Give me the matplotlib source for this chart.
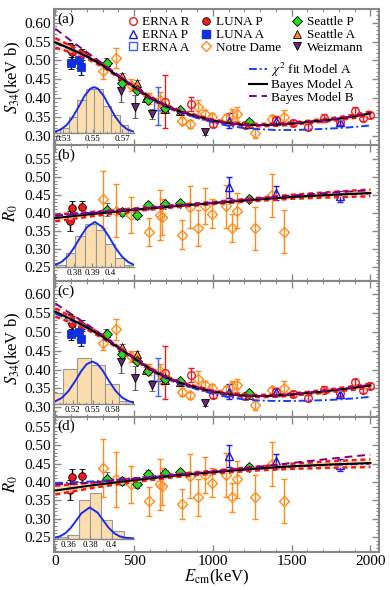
import numpy as np
import matplotlib
matplotlib.use("Agg")
from matplotlib import pyplot as plt
from matplotlib.lines import Line2D
from matplotlib.ticker import MultipleLocator, FixedLocator

plt.rcParams['font.family'] = ['Liberation Serif', 'DejaVu Serif']
plt.rcParams['mathtext.fontset'] = 'stix'

# ---------------- data points (E in keV) ----------------
# Notre Dame (open diamonds)
nd_E = [303, 384, 478, 595, 663, 680, 806, 857, 905, 949, 998, 1085, 1120, 1155, 1271, 1373, 1452]
nd_S = [0.471, 0.506, 0.435, 0.400, 0.396, 0.373, 0.341, 0.332, 0.376, 0.358, 0.350, 0.347, 0.356, 0.358, 0.307, 0.345, 0.350]
nd_dS = [0.020, 0.027, 0.015, 0.015, 0.020, 0.012, 0.010, 0.010, 0.020, 0.012, 0.012, 0.010, 0.015, 0.018, 0.013, 0.010, 0.020]
nd_R = [0.438, 0.407, 0.394, 0.347, 0.394, 0.388, 0.340, 0.417, 0.358, 0.419, 0.398, 0.419, 0.358, 0.407, 0.358, 0.450, 0.348]
nd_dR = [0.080, 0.075, 0.050, 0.040, 0.070, 0.050, 0.040, 0.060, 0.050, 0.050, 0.040, 0.060, 0.040, 0.050, 0.060, 0.060, 0.060]

# Seattle P (green diamonds)
sp_E = [329, 426, 522, 586, 698, 793, 1231]
sp_S = [0.493, 0.440, 0.422, 0.396, 0.374, 0.369, 0.338]
sp_dS = [0.008, 0.008, 0.008, 0.007, 0.006, 0.006, 0.006]
sp_R = [0.409, 0.403, 0.394, 0.422, 0.424, 0.427, 0.440]
sp_dR = [0.018, 0.010, 0.010, 0.010, 0.008, 0.008, 0.008]

# Seattle A (orange triangles)
sa_E = [325, 426, 519, 579, 698, 793, 1231]
sa_S = [0.497, 0.459, 0.441, 0.400, 0.372, 0.367, 0.333]
sa_dS = [0.010, 0.008, 0.008, 0.007, 0.006, 0.006, 0.006]

# Weizmann (down triangles)
wz_E = [420, 504, 617, 949]
wz_S = [0.420, 0.378, 0.358, 0.311]
wz_dS = [0.030, 0.031, 0.014, 0.008]

# LUNA P (red filled circles)
lp_E = [92, 108, 170]
lp_S = [0.535, 0.521, 0.516]
lp_dS = [0.012, 0.020, 0.015]
lp_R = [0.378, 0.415, 0.417]
lp_dR = [0.028, 0.020, 0.018]

# LUNA A (blue filled squares)
la_E = [102, 149, 166]
la_S = [0.493, 0.500, 0.482]
la_dS = [0.015, 0.020, 0.020]

# ERNA R (red open circles)
er_E = [695, 860, 1003, 1203, 1400, 1506, 1606, 1705, 1807, 1902, 1955, 1995]
er_S = [0.391, 0.385, 0.332, 0.329, 0.342, 0.335, 0.325, 0.347, 0.338, 0.366, 0.347, 0.356]
er_dS = [0.070, 0.018, 0.008, 0.008, 0.010, 0.008, 0.008, 0.010, 0.008, 0.010, 0.008, 0.008]

# ERNA P (blue open triangles)
ep_E = [1104, 1400, 1807]
ep_S = [0.341, 0.340, 0.336]
ep_dS = [0.020, 0.010, 0.010]
ep_R = [0.472, 0.457, 0.447]
ep_dR = [0.030, 0.020, 0.016]

# ERNA A (blue open squares)
ea_E = [653]
ea_S = [0.380]
ea_dS = [0.050]

# ---------------- model curves ----------------
curve_E_S = [0, 100, 200, 300, 400, 500, 600, 700, 800, 900, 1000,
             1100, 1200, 1300, 1400, 1500, 1600, 1700, 1800, 1900, 2000]
black_a = [0.548, 0.530, 0.511, 0.487, 0.458, 0.430, 0.402, 0.380, 0.364, 0.352, 0.341,
           0.334, 0.330, 0.329, 0.330, 0.333, 0.337, 0.341, 0.346, 0.352, 0.360]
purple_a = [0.584, 0.552, 0.522, 0.492, 0.460, 0.431, 0.403, 0.381, 0.364, 0.352, 0.341,
            0.334, 0.330, 0.329, 0.331, 0.334, 0.338, 0.342, 0.347, 0.353, 0.361]
blue_a = [0.546, 0.529, 0.510, 0.487, 0.458, 0.430, 0.401, 0.378, 0.361, 0.348, 0.336,
          0.327, 0.321, 0.318, 0.316, 0.316, 0.317, 0.319, 0.321, 0.324, 0.328]
redhi_a = [0.559, 0.538, 0.516, 0.491, 0.461, 0.433, 0.405, 0.383, 0.367, 0.355, 0.344,
           0.337, 0.333, 0.332, 0.333, 0.336, 0.340, 0.345, 0.350, 0.357, 0.365]
redlo_a = [0.534, 0.521, 0.505, 0.483, 0.455, 0.427, 0.399, 0.377, 0.361, 0.349, 0.338,
           0.331, 0.327, 0.326, 0.327, 0.330, 0.334, 0.338, 0.342, 0.348, 0.355]

black_c = [0.553, 0.533, 0.512, 0.487, 0.458, 0.430, 0.402, 0.380, 0.364, 0.352, 0.342,
           0.335, 0.331, 0.330, 0.331, 0.334, 0.338, 0.342, 0.347, 0.352, 0.358]
purple_c = [0.575, 0.547, 0.520, 0.491, 0.460, 0.431, 0.403, 0.381, 0.365, 0.353, 0.342,
            0.335, 0.331, 0.330, 0.332, 0.335, 0.339, 0.343, 0.348, 0.354, 0.360]
blue_c = [0.548, 0.530, 0.510, 0.487, 0.458, 0.430, 0.401, 0.378, 0.361, 0.348, 0.336,
          0.327, 0.321, 0.318, 0.317, 0.317, 0.318, 0.319, 0.321, 0.324, 0.328]
redhi_c = [0.562, 0.540, 0.517, 0.491, 0.461, 0.433, 0.405, 0.383, 0.367, 0.355, 0.345,
           0.338, 0.334, 0.333, 0.334, 0.337, 0.341, 0.346, 0.351, 0.357, 0.363]
redlo_c = [0.540, 0.524, 0.506, 0.483, 0.455, 0.427, 0.399, 0.377, 0.361, 0.349, 0.339,
           0.332, 0.328, 0.327, 0.328, 0.331, 0.335, 0.338, 0.343, 0.347, 0.353]

curve_E_R = [0, 250, 500, 750, 1000, 1250, 1500, 1750, 2000]
black_b = [0.386, 0.398, 0.409, 0.419, 0.428, 0.437, 0.445, 0.451, 0.456]
purple_b = [0.392, 0.401, 0.411, 0.420, 0.429, 0.439, 0.449, 0.457, 0.464]
blue_b = [0.393, 0.402, 0.411, 0.420, 0.428, 0.437, 0.445, 0.451, 0.455]
redhi_b = [0.396, 0.404, 0.413, 0.422, 0.431, 0.441, 0.451, 0.459, 0.466]
redlo_b = [0.377, 0.392, 0.405, 0.416, 0.425, 0.433, 0.440, 0.444, 0.447]

black_d = [0.377, 0.392, 0.405, 0.417, 0.427, 0.436, 0.443, 0.448, 0.452]
purple_d = [0.393, 0.399, 0.409, 0.419, 0.429, 0.440, 0.452, 0.464, 0.475]
blue_d = [0.397, 0.402, 0.410, 0.419, 0.428, 0.436, 0.442, 0.447, 0.450]
redhi_d = [0.390, 0.399, 0.410, 0.421, 0.431, 0.441, 0.450, 0.457, 0.462]
redlo_d = [0.366, 0.385, 0.400, 0.413, 0.423, 0.431, 0.436, 0.439, 0.441]

# ---------------- inset histograms (relative heights) ----------------
hist_edges_a = [0.528, 0.5337, 0.5395, 0.5452, 0.551, 0.5567, 0.5624, 0.5682, 0.574]
hist_h_a = [0.11, 0.35, 0.72, 0.96, 0.96, 0.59, 0.39, 0.17]
gauss_x_a = [0.5245, 0.5285, 0.5325, 0.5365, 0.5405, 0.5445, 0.5485, 0.551, 0.5535,
             0.5575, 0.5615, 0.5655, 0.5695, 0.5735, 0.578]
gauss_y_a = [0.029, 0.078, 0.178, 0.346, 0.573, 0.808, 0.969, 1.0, 0.969,
             0.808, 0.573, 0.346, 0.178, 0.078, 0.025]
ticks_a = [0.53, 0.55, 0.57]
ticklabels_a = ['0.53', '0.55', '0.57']

hist_edges_b = [0.3703, 0.3754, 0.3806, 0.3862, 0.3917, 0.3969, 0.4023, 0.4074, 0.4127]
hist_h_b = [0.04, 0.30, 0.69, 0.96, 0.81, 0.50, 0.21, 0.04]
gauss_x_b = [0.3695, 0.373, 0.3765, 0.38, 0.3835, 0.387, 0.3913, 0.3956, 0.3991,
             0.4026, 0.4061, 0.4096, 0.4128]
gauss_y_b = [0.043, 0.110, 0.235, 0.430, 0.669, 0.885, 1.0, 0.885, 0.669,
             0.430, 0.235, 0.110, 0.047]
ticks_b = [0.38, 0.39, 0.40]
ticklabels_b = ['0.38', '0.39', '0.4']

hist_edges_c = [0.4846, 0.5056, 0.5266, 0.5476, 0.5686, 0.5896, 0.6106]
hist_h_c = [0.24, 0.83, 1.08, 0.92, 0.47, 0.06]
gauss_x_c = [0.4928, 0.503, 0.513, 0.523, 0.533, 0.541, 0.5492, 0.557, 0.565,
             0.575, 0.585, 0.595, 0.605, 0.6128]
gauss_y_c = [0.049, 0.133, 0.290, 0.523, 0.780, 0.938, 1.0, 0.945, 0.790,
             0.533, 0.298, 0.138, 0.053, 0.022]
ticks_c = [0.52, 0.55, 0.58]
ticklabels_c = ['0.52', '0.55', '0.58']

hist_edges_d = [0.3491, 0.3585, 0.3694, 0.3797, 0.3898, 0.4007, 0.4111, 0.4210]
hist_h_d = [0.05, 0.11, 1.24, 1.45, 0.59, 0.25, 0.03]
gauss_x_d = [0.3475, 0.352, 0.357, 0.362, 0.367, 0.372, 0.3797, 0.387, 0.392,
             0.397, 0.402, 0.407, 0.412, 0.4207]
gauss_y_d = [0.027, 0.070, 0.167, 0.337, 0.571, 0.814, 1.0, 0.831, 0.592,
             0.354, 0.178, 0.075, 0.027, 0.003]
ticks_d = [0.36, 0.38, 0.40]
ticklabels_d = ['0.36', '0.38', '0.4']

# ---------------- colours ----------------
c_red = '#EE1C1C'
c_blue = '#1A1AE6'
c_orange = '#FF8C1A'
c_green = '#22DD22'
c_purple = '#6A2878'
c_gray = '#888888'

W, H = 390.0, 590.0
fig = plt.figure(figsize=(W / 100, H / 100), dpi=100)


def px_rect(left, top, right, bottom):
    return [left / W, 1 - bottom / H, (right - left) / W, (bottom - top) / H]


bounds = [9, 145.5, 281, 416.5, 552]
axes = [fig.add_axes(px_rect(54, bounds[i], 379, bounds[i + 1])) for i in range(4)]

eb = dict(capsize=2.2, elinewidth=1.0, capthick=1.0, ms=5.5, linestyle='none', zorder=2)


def style_axes(ax):
    ax.set_xlim(-8, 2055)
    ax.xaxis.set_major_locator(MultipleLocator(500))
    ax.xaxis.set_minor_locator(MultipleLocator(100))
    ax.yaxis.set_major_locator(MultipleLocator(0.05))
    ax.yaxis.set_minor_locator(MultipleLocator(0.01))
    ax.yaxis.set_major_formatter(matplotlib.ticker.FormatStrFormatter('%.2f'))
    ax.tick_params(which='both', direction='in', top=True, right=True,
                   color=c_gray, labelsize=11, pad=2)
    ax.tick_params(which='major', length=5, width=1.0)
    ax.tick_params(which='minor', length=2.5, width=0.8)
    for s in ax.spines.values():
        s.set_color(c_gray)
        s.set_linewidth(1.5)
    ax.tick_params(axis='x', labelbottom=False)


def draw_S(ax, black, purple, blue, redhi, redlo):
    ax.errorbar(nd_E, nd_S, yerr=nd_dS, fmt='D', mfc='none', mec=c_orange, mew=1.0,
                ecolor=c_orange, **{**eb, 'ms': 5})
    ax.errorbar(er_E, er_S, yerr=er_dS, fmt='o', mfc='none', mec=c_red, mew=1.0,
                ecolor=c_red, **eb)
    ax.errorbar(ea_E, ea_S, yerr=ea_dS, fmt='s', mfc='none', mec='#4060FF', mew=1.0,
                ecolor='#4060FF', **eb)
    ax.errorbar(ep_E, ep_S, yerr=ep_dS, fmt='^', mfc='none', mec=c_blue, mew=1.0,
                ecolor=c_blue, **eb)
    ax.errorbar(wz_E, wz_S, yerr=wz_dS, fmt='v', mfc=c_purple, mec='black', mew=0.6,
                ecolor='#555555', **eb)
    ax.errorbar(sa_E, sa_S, yerr=sa_dS, fmt='^', mfc=c_orange, mec='black', mew=0.6,
                ecolor='#666666', **eb)
    ax.errorbar(sp_E, sp_S, yerr=sp_dS, fmt='D', mfc=c_green, mec='black', mew=0.6,
                ecolor='#666666', **{**eb, 'ms': 5})
    ax.errorbar(lp_E, lp_S, yerr=lp_dS, fmt='o', mfc=c_red, mec='black', mew=0.6,
                ecolor='black', **eb)
    ax.errorbar(la_E, la_S, yerr=la_dS, fmt='s', mfc='#1030E0', mec='#1030E0', mew=0.6,
                ecolor='black', **eb)
    draw_curves(ax, curve_E_S, black, purple, blue, redhi, redlo)


def draw_R(ax, black, purple, blue, redhi, redlo):
    ax.errorbar(nd_E, nd_R, yerr=nd_dR, fmt='D', mfc='none', mec=c_orange, mew=1.0,
                ecolor=c_orange, **{**eb, 'ms': 5})
    ax.errorbar(ep_E, ep_R, yerr=ep_dR, fmt='^', mfc='none', mec=c_blue, mew=1.0,
                ecolor=c_blue, **eb)
    ax.errorbar(sp_E, sp_R, yerr=sp_dR, fmt='D', mfc=c_green, mec='black', mew=0.6,
                ecolor='#666666', **{**eb, 'ms': 5})
    ax.errorbar(lp_E, lp_R, yerr=lp_dR, fmt='o', mfc=c_red, mec='black', mew=0.6,
                ecolor='black', **eb)
    draw_curves(ax, curve_E_R, black, purple, blue, redhi, redlo)


def draw_curves(ax, E, black, purple, blue, redhi, redlo):
    ax.fill_between(E, redlo, redhi, color='#FCD9A6', alpha=0.8, lw=0, zorder=3)
    ax.plot(E, redhi, color=c_red, lw=1.8, ls=(0, (2, 1.5)), zorder=4)
    ax.plot(E, redlo, color=c_red, lw=1.8, ls=(0, (2, 1.5)), zorder=4)
    ax.plot(E, blue, color='#1A3CFF', lw=1.4, ls=(0, (4, 1.5, 1, 1.5)), zorder=5)
    ax.plot(E, black, color='black', lw=1.5, zorder=6)
    ax.plot(E, purple, color='#800080', lw=1.4, ls=(0, (4, 2.5)), zorder=7)


def draw_inset(baseline, edges, heights, gx, gy, ticks, labels, minor):
    top = baseline - 55
    ins = fig.add_axes(px_rect(55, top, 134, baseline))
    ins.patch.set_alpha(0)
    ins.bar(edges[:-1], heights, width=np.diff(edges), align='edge',
            color='#FBDDAE', edgecolor='#999999', lw=0.8)
    ins.plot(gx, gy, color='#1A2CF0', lw=1.4)
    ins.set_xlim(gx[0], gx[-1])
    ins.set_ylim(0, 55.0 / (baseline - top) * max(1.0, 0) * 1.2)
    for k in ['left', 'right', 'top']:
        ins.spines[k].set_visible(False)
    ins.spines['bottom'].set_color(c_gray)
    ins.spines['bottom'].set_linewidth(1.0)
    ins.set_yticks([])
    ins.xaxis.set_major_locator(FixedLocator(ticks))
    ins.xaxis.set_minor_locator(MultipleLocator(minor))
    ins.set_xticklabels(labels)
    ins.tick_params(which='both', direction='in', color=c_gray, labelsize=6.5, pad=1.5)
    ins.tick_params(which='major', length=3)
    ins.tick_params(which='minor', length=1.5)
    return ins


for ax in axes:
    style_axes(ax)

draw_S(axes[0], black_a, purple_a, blue_a, redhi_a, redlo_a)
draw_R(axes[1], black_b, purple_b, blue_b, redhi_b, redlo_b)
draw_S(axes[2], black_c, purple_c, blue_c, redhi_c, redlo_c)
draw_R(axes[3], black_d, purple_d, blue_d, redhi_d, redlo_d)

axes[0].set_ylim(0.275, 0.636)
axes[1].set_ylim(0.21, 0.589)
axes[2].set_ylim(0.276, 0.634)
axes[3].set_ylim(0.209, 0.579)

for ax, lab in zip(axes, ['(a)', '(b)', '(c)', '(d)']):
    ax.text(0.01, 0.975, lab, transform=ax.transAxes, va='top', ha='left', fontsize=11)

for i in (0, 2):
    axes[i].set_ylabel(r'$S_{34}$(keV b)', fontsize=12, labelpad=1)
for i in (1, 3):
    axes[i].set_ylabel(r'$R_0$', fontsize=12, labelpad=3)

axes[3].tick_params(axis='x', labelbottom=True)
axes[3].set_xlabel(r'$E_{\rm cm}$(keV)', fontsize=12, labelpad=0)

ins_a = draw_inset(133, hist_edges_a, hist_h_a, gauss_x_a, gauss_y_a, ticks_a, ticklabels_a, 0.005)
ins_b = draw_inset(267, hist_edges_b, hist_h_b, gauss_x_b, gauss_y_b, ticks_b, ticklabels_b, 0.005)
ins_c = draw_inset(403.5, hist_edges_c, hist_h_c, gauss_x_c, gauss_y_c, ticks_c, ticklabels_c, 0.01)
ins_d = draw_inset(538.5, hist_edges_d, hist_h_d, gauss_x_d, gauss_y_d, ticks_d, ticklabels_d, 0.01)
ins_a.set_ylim(0, 1.2)
ins_b.set_ylim(0, 1.22)
ins_c.set_ylim(0, 1.31)
ins_d.set_ylim(0, 1.77)

# legends
mk = dict(linestyle='none', markersize=5.5)
handles = [
    Line2D([], [], marker='o', mfc='none', mec=c_red, mew=1.0, **mk),
    Line2D([], [], marker='^', mfc='none', mec=c_blue, mew=1.0, **mk),
    Line2D([], [], marker='s', mfc='none', mec='#4060FF', mew=1.0, **mk),
    Line2D([], [], marker='o', mfc=c_red, mec='black', mew=0.6, **mk),
    Line2D([], [], marker='s', mfc='#1030E0', mec='#1030E0', **mk),
    Line2D([], [], marker='D', mfc='none', mec=c_orange, mew=1.0, linestyle='none', markersize=5),
    Line2D([], [], marker='D', mfc=c_green, mec='black', mew=0.6, linestyle='none', markersize=5),
    Line2D([], [], marker='^', mfc=c_orange, mec='black', mew=0.6, **mk),
    Line2D([], [], marker='v', mfc=c_purple, mec='black', mew=0.6, **mk),
]
labels = ['ERNA R', 'ERNA P', 'ERNA A', 'LUNA P', 'LUNA A', 'Notre Dame',
          'Seattle P', 'Seattle A', 'Weizmann']
leg1 = axes[0].legend(handles, labels, ncol=3, loc='upper left',
                      bbox_to_anchor=((126 - 54) / 325, 1 - (16 - 9) / 136.5),
                      frameon=False, fontsize=9.5, handlelength=1.0, handletextpad=0.25,
                      columnspacing=0.7, labelspacing=0.05, borderpad=0, borderaxespad=0)
axes[0].add_artist(leg1)

line_handles = [
    Line2D([], [], color='#1A3CFF', lw=1.4, ls=(0, (4, 1.5, 1, 1.5))),
    Line2D([], [], color='black', lw=1.5),
    Line2D([], [], color='#800080', lw=1.4, ls=(0, (4, 2.5))),
]
line_labels = [r'$\chi^2$ fit Model A', 'Bayes Model A', 'Bayes Model B']
axes[0].legend(line_handles, line_labels, loc='upper left',
               bbox_to_anchor=((249 - 54) / 325, 1 - (61 - 9) / 136.5),
               frameon=False, fontsize=9.5, handlelength=1.4, handletextpad=0.3,
               labelspacing=0.0, borderpad=0, borderaxespad=0)

fig.savefig('out.png', dpi=100)
